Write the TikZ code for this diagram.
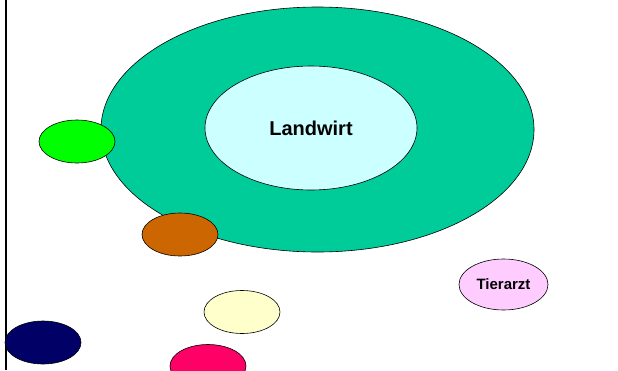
\documentclass[tikz,border=0pt]{standalone}
\usepackage{fontspec}
\setmainfont{Liberation Sans}
\usepackage{xcolor}
\usetikzlibrary{shapes,
	positioning}
\definecolor{ringgreen}{HTML}{00CC99}
\definecolor{corecyan}{HTML}{CCFFFF}
\definecolor{limegreen}{HTML}{00FF00}
\definecolor{rust}{HTML}{CC6600}
\definecolor{cream}{HTML}{FFFFCC}
\definecolor{navyblue}{HTML}{000066}
\definecolor{crimson}{HTML}{FF0066}
\definecolor{lilac}{HTML}{FFCCFF}
\tikzstyle{blob}=[draw, ellipse, inner sep=0, line width=0.6pt]
\tikzstyle{small}=[blob, minimum width=76pt, minimum height=43pt]

\begin{document}
\begin{tikzpicture}[x=1pt, y=-1pt]
            \useasboundingbox (0,0) rectangle (618,370);
            \clip (0,0) rectangle (618,370);
            \draw[line width=2pt] (6,0) -- (6,370);
            % ring and core
            \node[blob, fill=ringgreen, minimum width=433pt, minimum height=245pt] (ring) at (317.5,129.5) {};
            \node[blob, fill=corecyan, minimum width=212pt, minimum height=124pt,
                font=\fontsize{20}{24}\selectfont\bfseries] (landwirt) at (311,128) {Landwirt};
            % others
            \node[small, fill=limegreen] (gruen) at (77,141.5) {};
            \node[small, fill=rust] (braun) at (180,234.5) {};
            \node[small, fill=cream] (hell) at (242,312) {};
            \node[small, fill=navyblue] (dunkel) at (43,342.5) {};
            \node[small, fill=crimson] (rot) at (208,366) {};
            \node[blob, fill=lilac, minimum width=89pt, minimum height=51pt,
                font=\fontsize{15}{18}\selectfont\bfseries] (tierarzt) at (503.5,284.5) {Tierarzt};
        \end{tikzpicture}
\end{document}
